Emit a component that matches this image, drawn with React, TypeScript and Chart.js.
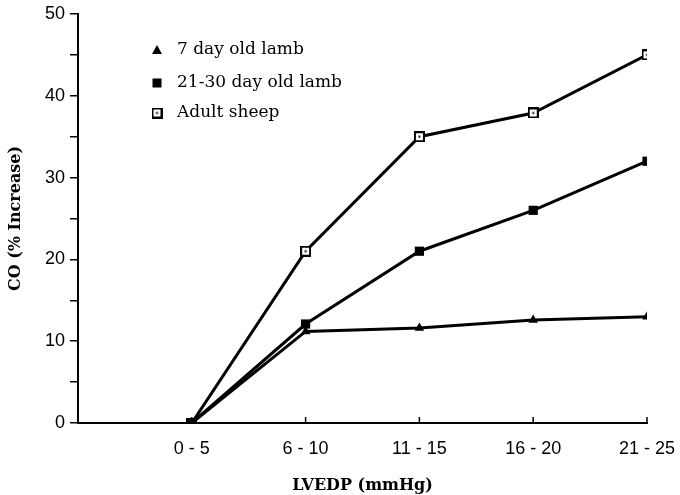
import React, { useEffect, useRef } from "react";
import { Chart, registerables } from "chart.js";

Chart.register(...registerables);

const categories = ["0 - 5", "6 - 10", "11 - 15", "16 - 20", "21 - 25"];
const seriesNames = ["7 day old lamb", "21-30 day old lamb", "Adult sheep"];
const lamb7 = [0, 11.2, 11.6, 12.6, 13.0];
const lamb21 = [0, 12.1, 21.0, 26.0, 32.0];
const adult = [0, 21.0, 35.0, 37.9, 45.0];
const yTicks = [0, 10, 20, 30, 40, 50];

const SERIF = "'DejaVu Serif', 'Liberation Serif', serif";
const SANS = "'Liberation Sans', Arial, Helvetica, sans-serif";

function makeOpenSquare(): HTMLCanvasElement {
  const c = document.createElement("canvas");
  c.width = 11;
  c.height = 11;
  const g = c.getContext("2d")!;
  g.fillStyle = "#000";
  g.fillRect(0, 0, 11, 11);
  g.fillStyle = "#fff";
  g.fillRect(2, 2, 7, 7);
  g.fillStyle = "#000";
  g.fillRect(4.5, 4.5, 2, 2);
  return c;
}

export default function App() {
  const ref = useRef<HTMLCanvasElement | null>(null);

  useEffect(() => {
    if (!ref.current) return;
    const openSq = makeOpenSquare();

    const toPts = (arr: number[]) => arr.map((v, i) => ({ x: i + 1, y: v }));

    const innerTicks = {
      id: "innerTicks",
      afterDraw(chart: any) {
        const ctx = chart.ctx;
        const xs = chart.scales.x;
        const area = chart.chartArea;
        ctx.save();
        ctx.strokeStyle = "#000";
        ctx.lineWidth = 1.5;
        for (let i = 1; i <= categories.length; i++) {
          const px = xs.getPixelForValue(i);
          ctx.beginPath();
          ctx.moveTo(px, area.bottom);
          ctx.lineTo(px, area.bottom - 6);
          ctx.stroke();
        }
        ctx.restore();
      },
    };

    const legendPlugin = {
      id: "insideLegend",
      afterDraw(chart: any) {
        const ctx = chart.ctx;
        ctx.save();
        const x0 = 157;
        const rows = [50, 83, 113];
        ctx.font = `17px ${SERIF}`;
        ctx.textBaseline = "middle";
        ctx.fillStyle = "#000";
        chart.data.datasets.forEach((ds: any, i: number) => {
          const y = rows[i];
          if (i === 0) {
            ctx.beginPath();
            ctx.moveTo(x0, y - 5);
            ctx.lineTo(x0 + 5, y + 4);
            ctx.lineTo(x0 - 5, y + 4);
            ctx.closePath();
            ctx.fill();
          } else if (i === 1) {
            ctx.fillRect(x0 - 4.5, y - 4.5, 9, 9);
          } else {
            ctx.drawImage(openSq, x0 - 5.5, y - 5.5);
          }
          ctx.fillText(ds.label, x0 + 20, y);
        });
        ctx.restore();
      },
    };

    const common = {
      borderColor: "#000",
      backgroundColor: "#000",
      borderWidth: 3,
      pointRadius: 5,
      pointBorderWidth: 0,
      tension: 0,
    };

    const chart = new Chart(ref.current, {
      type: "line",
      data: {
        datasets: [
          { ...common, label: seriesNames[0], data: toPts(lamb7), pointStyle: "triangle", pointRadius: 5.5 },
          { ...common, label: seriesNames[1], data: toPts(lamb21), pointStyle: "rect", pointRadius: 6.5 },
          { ...common, label: seriesNames[2], data: toPts(adult), pointStyle: openSq as any },
        ],
      },
      options: {
        responsive: false,
        animation: false,
        layout: { padding: { top: 14, right: 33, left: 0, bottom: 0 } },
        plugins: { legend: { display: false }, tooltip: { enabled: false } },
        scales: {
          x: {
            type: "linear",
            min: 0,
            max: categories.length,
            border: { display: true, color: "#000", width: 2 },
            grid: { display: false, drawTicks: false },
            ticks: {
              stepSize: 1,
              autoSkip: false,
              maxRotation: 0,
              padding: 15,
              color: "#000",
              font: { family: SANS, size: 18 },
              callback: (v: any) => (v >= 1 ? categories[v - 1] : ""),
            },
            title: {
              display: true,
              text: "LVEDP (mmHg)",
              color: "#000",
              font: { family: SERIF, size: 16, weight: "bold" },
              padding: { top: 11, bottom: 0 },
            },
            afterFit: (s: any) => {
              s.height = 72;
              s.paddingLeft = 0;
              s.paddingRight = 0;
            },
          },
          y: {
            min: 0,
            max: 50,
            border: { display: true, color: "#000", width: 2 },
            grid: { drawOnChartArea: false, drawTicks: true, tickLength: 8, color: "#000", lineWidth: 1.5 },
            ticks: {
              stepSize: 5,
              padding: 5,
              color: "#000",
              font: { family: SANS, size: 18 },
              callback: (v: any) => (yTicks.includes(v) ? String(v) : ""),
            },
            title: {
              display: true,
              text: "CO (% Increase)",
              color: "#000",
              font: { family: SERIF, size: 16, weight: "bold" },
              padding: { top: 6, bottom: 0 },
            },
            afterFit: (s: any) => {
              s.width = 78;
              s.paddingTop = 0;
              s.paddingBottom = 0;
            },
          },
        },
      },
      plugins: [innerTicks, legendPlugin],
    });
    return () => chart.destroy();
  }, []);

  return (
    <div style={{ position: "fixed", left: 0, top: 0, width: 680, height: 495, background: "#fff" }}>
      <canvas ref={ref} width={680} height={495} />
    </div>
  );
}
